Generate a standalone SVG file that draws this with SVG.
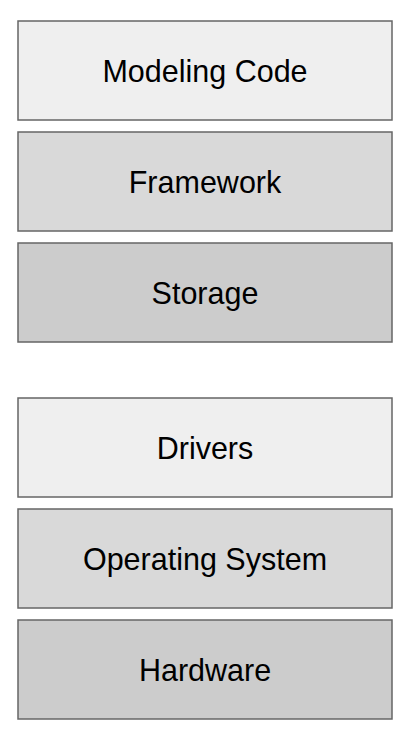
<svg xmlns="http://www.w3.org/2000/svg" width="410" height="736" viewBox="0 0 410 736">
<style>
rect{stroke:#666666;stroke-width:1.5}
.l1{fill:#efefef}.l2{fill:#d9d9d9}.l3{fill:#cccccc}
text{font-family:"Liberation Sans",Arial,sans-serif;font-size:30.5px;fill:#000;text-anchor:middle}
</style>
<rect width="410" height="736" fill="#ffffff" style="stroke:none"/>
<g id="modeling-code"><rect class="l1" x="18" y="21" width="374" height="99"/><text x="205" y="82">Modeling Code</text></g>
<g id="framework"><rect class="l2" x="18" y="132" width="374" height="99"/><text x="205" y="193">Framework</text></g>
<g id="storage"><rect class="l3" x="18" y="243" width="374" height="99"/><text x="205" y="304">Storage</text></g>
<g id="drivers"><rect class="l1" x="18" y="398" width="374" height="99"/><text x="205" y="459">Drivers</text></g>
<g id="operating-system"><rect class="l2" x="18" y="509" width="374" height="99"/><text x="205" y="570">Operating System</text></g>
<g id="hardware"><rect class="l3" x="18" y="620" width="374" height="99"/><text x="205" y="681">Hardware</text></g>
<g id="connectors"></g>
</svg>
